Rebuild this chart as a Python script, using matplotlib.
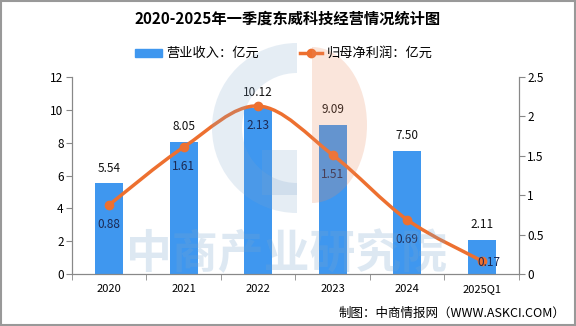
import matplotlib.pyplot as plt
from matplotlib.patches import Rectangle, Wedge, Ellipse, PathPatch
from matplotlib.lines import Line2D
from matplotlib.path import Path

plt.rcParams['font.family'] = ['Noto Sans CJK SC', 'DejaVu Sans']

years = ["2020", "2021", "2022", "2023", "2024", "2025Q1"]
revenue = [5.54, 8.05, 10.12, 9.09, 7.50, 2.11]
profit = [0.88, 1.61, 2.13, 1.51, 0.69, 0.17]

bar_color = "#3f97ef"
line_color = "#ed7030"

fig = plt.figure(figsize=(5.76, 3.26), dpi=100)

ax = fig.add_axes([0.125, 0.1586, 0.776, 0.606], zorder=1)
ax.patch.set_alpha(0)
ax2 = ax.twinx()
ax2.set_zorder(2)

x = list(range(len(years)))
ax.bar(x, revenue, width=0.37, color=bar_color, zorder=2)
for xi, v in zip(x, revenue):
    ax.annotate(f"{v:.2f}", (xi, v), xytext=(0, 6), textcoords="offset points",
                ha="center", va="bottom", fontsize=8.5, color="#111111")

ax.set_xlim(-0.5, len(years) - 0.5)
ax.set_ylim(0, 12)
ax.set_yticks(range(0, 13, 2))
ax.set_xticks(x)
ax.set_xticklabels(years)
ax.set_xticks([i - 0.5 for i in range(len(years) + 1)], minor=True)
ax.tick_params(axis="x", which="major", length=0, pad=7, labelsize=8)
ax.tick_params(axis="x", which="minor", length=4, color="#888888")
ax.tick_params(axis="y", length=4, color="#888888", labelsize=8.5, pad=2)

ax2.set_ylim(0, 2.5)
ax2.set_yticks([0, 0.5, 1, 1.5, 2, 2.5])
ax2.set_yticklabels(["0", "0.5", "1", "1.5", "2", "2.5"])
ax2.tick_params(axis="y", length=4, color="#888888", labelsize=8.5, pad=2)

for a in (ax, ax2):
    a.spines["top"].set_visible(False)
    for s in ("left", "right", "bottom"):
        a.spines[s].set_color("#888888")

# smoothed profit line (Catmull-Rom as cubic bezier)
pts = list(zip(x, profit))
verts = [pts[0]]
codes = [Path.MOVETO]
for i in range(len(pts) - 1):
    p0 = pts[i - 1] if i > 0 else pts[i]
    p1, p2 = pts[i], pts[i + 1]
    p3 = pts[i + 2] if i + 2 < len(pts) else pts[i + 1]
    c1 = (p1[0] + (p2[0] - p0[0]) / 6, p1[1] + (p2[1] - p0[1]) / 6)
    c2 = (p2[0] - (p3[0] - p1[0]) / 6, p2[1] - (p3[1] - p1[1]) / 6)
    verts += [c1, c2, p2]
    codes += [Path.CURVE4] * 3
ax2.add_patch(PathPatch(Path(verts, codes), fill=False, edgecolor=line_color,
                        lw=2.5, zorder=3, capstyle="round"))
ax2.plot(x, profit, "o", color=line_color, ms=6, zorder=4)
for i, (xi, v) in enumerate(zip(x, profit)):
    off = (5, -1) if i == len(x) - 1 else (0, -14)
    ax2.annotate(f"{v:.2f}", (xi, v), xytext=off, textcoords="offset points",
                 ha="center", va="center", fontsize=8.5, color="#1c2a55", zorder=5)

# logo watermark, drawn in pixel coords over the plot
top = fig.add_axes([0, 0, 1, 1], zorder=3)
top.set_xlim(0, 576)
top.set_ylim(326, 0)
top.axis("off")
top.add_patch(Wedge((297, 128), 85, 90, 270, width=30, color="#7fa6cc", alpha=0.2, lw=0))
top.add_patch(Rectangle((262, 150), 35, 45, color="#7fa6cc", alpha=0.2, lw=0))
half = Ellipse((312, 125), 110, 156, color="#ea8a5e", alpha=0.22, lw=0)
top.add_patch(half)
clip = Rectangle((312, 40), 80, 180, transform=top.transData)
half.set_clip_path(clip)
top.text(287, 255, "中商产业研究院", ha="center", va="center", fontsize=33,
         fontweight="bold", color="#7aa6cf", alpha=0.25)

# title, legend, footer
fig.text(0.5, 1 - 19 / 326, "2020-2025年一季度东威科技经营情况统计图",
         ha="center", va="center", fontsize=11, fontweight="bold")
fig.patches.append(Rectangle((135 / 576, 1 - 57 / 326), 27 / 576, 8 / 326,
                             transform=fig.transFigure, color=bar_color, figure=fig))
fig.text(166 / 576, 1 - 53 / 326, "营业收入：亿元", ha="left", va="center", fontsize=9.5)
fig.lines.append(Line2D([300 / 576, 322 / 576], [1 - 53 / 326] * 2, transform=fig.transFigure,
                        color=line_color, lw=2.5, figure=fig))
fig.lines.append(Line2D([311 / 576], [1 - 53 / 326], transform=fig.transFigure,
                        color=line_color, marker="o", ms=6, figure=fig))
fig.text(327 / 576, 1 - 53 / 326, "归母净利润：亿元", ha="left", va="center", fontsize=9.5)
fig.text(565 / 576, 1 - 313 / 326, "制图：中商情报网（WWW.ASKCI.COM）",
         ha="right", va="center", fontsize=9)

fig.patches.append(Rectangle((0.002, 0.003), 0.996, 0.994, transform=fig.transFigure,
                             fill=False, edgecolor="#999999", lw=1.5, figure=fig))

fig.savefig("out.png", dpi=100)
